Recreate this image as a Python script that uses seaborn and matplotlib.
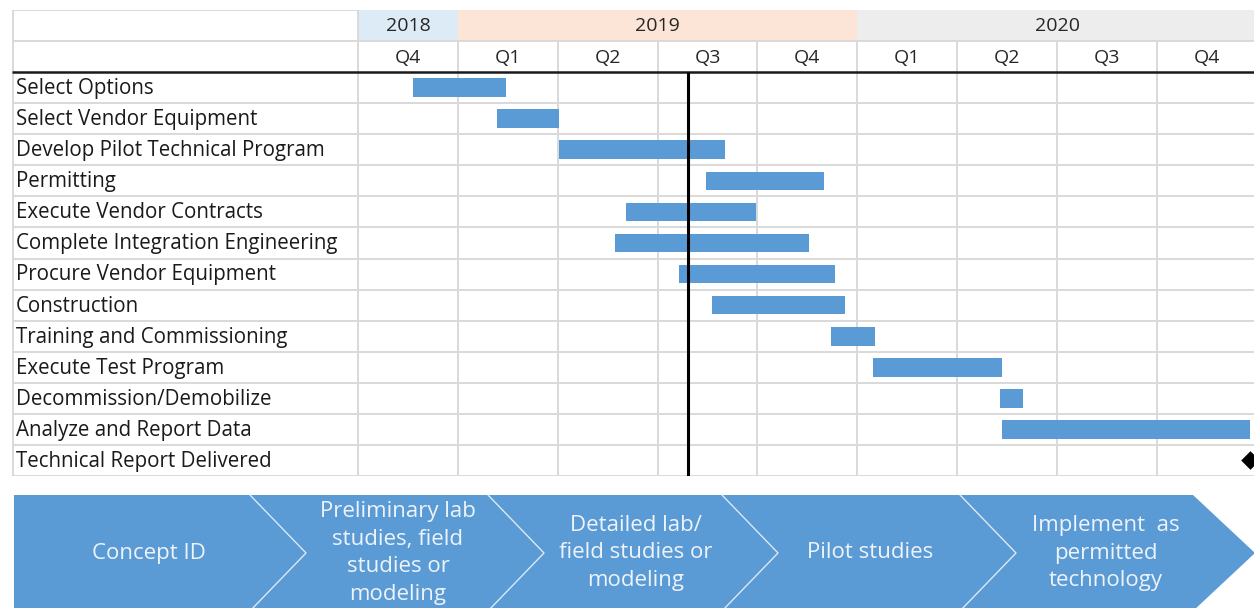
import matplotlib
matplotlib.use("Agg")
import matplotlib.pyplot as plt
from matplotlib.patches import Polygon
import numpy as np
import pandas as pd
import seaborn as sns

# tasks and their start / end, in quarters counted from the start of 2018 Q4
tasks = ["Select Options", "Select Vendor Equipment", "Develop Pilot Technical Program",
         "Permitting", "Execute Vendor Contracts", "Complete Integration Engineering",
         "Procure Vendor Equipment", "Construction", "Training and Commissioning",
         "Execute Test Program", "Decommission/Demobilize", "Analyze and Report Data",
         "Technical Report Delivered"]
starts = [0.55, 1.39, 2.01, 3.48, 2.68, 2.57, 3.21, 3.54, 4.74, 5.16, 6.43, 6.45, 8.93]
ends = [1.48, 2.01, 3.67, 4.67, 3.99, 4.52, 4.78, 4.88, 5.18, 6.45, 6.66, 8.93, 8.93]
milestone = "Technical Report Delivered"
today = 3.30

years = ["2018", "2019", "2020"]
year_start = [0, 1, 5]
year_end = [1, 5, 9]
year_colors = ["#DDEBF7", "#FCE4D6", "#EDEDED"]
quarters = ["Q4", "Q1", "Q2", "Q3", "Q4", "Q1", "Q2", "Q3", "Q4"]

stages = ["Concept ID",
          "Preliminary lab\nstudies, field\nstudies or\nmodeling",
          "Detailed lab/\nfield studies or\nmodeling",
          "Pilot studies",
          "Implement  as\npermitted\ntechnology"]

BLUE = "#5B9BD5"
GRID = "#D9D9D9"
FONT = ["Open Sans", "DejaVu Sans"]

sns.set_style("white")
plt.rcParams["font.family"] = FONT

W, H = 1254, 608
fig = plt.figure(figsize=(W / 100, H / 100), dpi=100)

# ---- gantt table ----
ax = fig.add_axes([12 / W, 1 - 476 / H, 1 - 12 / W, 466 / H])
df = pd.DataFrame({"task": tasks, "start": starts,
                   "dur": np.subtract(ends, starts)})
label_x = -3.465
sns.barplot(data=df, x="dur", y="task", left=df["start"], orient="h",
            width=0.6, color=BLUE, saturation=1, linewidth=0,
            errorbar=None, ax=ax, zorder=3)
ms = tasks.index(milestone)
sns.scatterplot(x=[starts[ms]], y=[ms], marker="D", s=90, color="black",
                linewidth=0, ax=ax, zorder=5, clip_on=False)

ax.set_xlim(label_x, label_x + 1242 / 99.86)
ax.set_ylim(len(tasks) - 0.5, -2.5)
ax.set_xticks([])
ax.set_yticks([])
ax.set_xlabel("")
ax.set_ylabel("")
for s in ax.spines.values():
    s.set_visible(False)

# year header cells
for yr, a, b, c in zip(years, year_start, year_end, year_colors):
    ax.fill_between([a, b], -2.5, -1.5, color=c, linewidth=0, zorder=1)
    ax.text((a + b) / 2, -1.97, yr, ha="center", va="center", fontsize=14,
            color="#262626", zorder=4)
for i, q in enumerate(quarters):
    ax.text(i + 0.5, -0.97, q, ha="center", va="center", fontsize=14,
            color="#262626", zorder=4)

# grid
n = len(tasks)
ax.hlines([-2.5], label_x, 0, color=GRID, lw=1.4, zorder=2)
ax.hlines([-1.5], label_x, 9, color=GRID, lw=1.4, zorder=2)
ax.hlines(np.arange(0.5, n, 1), label_x, 9, color=GRID, lw=1.4, zorder=2)
ax.vlines([label_x + 0.01, 0], -2.5, n - 0.5, color=GRID, lw=1.4, zorder=2)
ax.vlines(np.arange(1, 10), -1.5, n - 0.5, color=GRID, lw=1.4, zorder=2)
ax.hlines([-0.5], label_x, 9, color="#1a1a1a", lw=1.8, zorder=4)
ax.vlines([today], -0.5, n - 0.5, color="black", lw=2.2, zorder=6)

for i, t in enumerate(tasks):
    ax.text(label_x + 0.04, i + 0.03, t, ha="left", va="center", fontsize=14.8,
            color="#1a1a1a", zorder=4)

# ---- stage banner ----
bx = fig.add_axes([0, 0, 1, 128 / H])
bx.set_xlim(0, W)
bx.set_ylim(608, 480)
bx.axis("off")
top, mid, bot = 495, 553, 611
bx.add_patch(Polygon([(14, top), (1193, top), (1255, mid), (1193, bot), (14, bot)],
                     closed=True, facecolor=BLUE, edgecolor="none"))
seps = [250, 488, 722, 960]
for x0 in seps:
    bx.plot([x0, x0 + 56, x0], [top, mid, bot], color="#DCE8F5", lw=1.0)
centers = [149, 398, 636, 870, 1106]
for cx, s in zip(centers, stages):
    bx.text(cx, mid, s, ha="center", va="center", fontsize=16,
            color="#EEF3FA", linespacing=1.43)

fig.savefig("out.png", dpi=100)
